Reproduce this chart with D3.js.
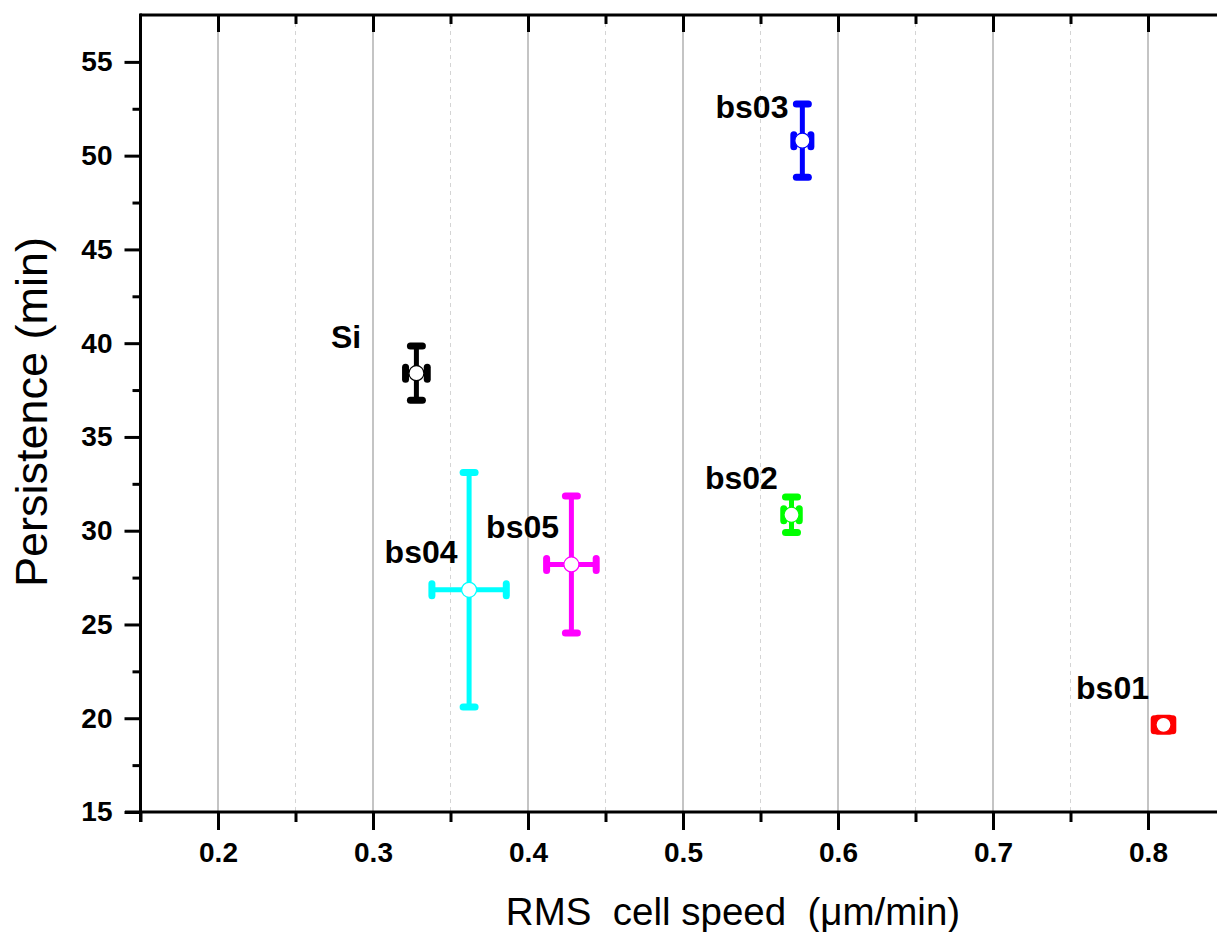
<!DOCTYPE html>
<html>
<head>
<meta charset="utf-8">
<script src="https://cdn.jsdelivr.net/npm/d3@7"></script>
<style>
  html, body { margin: 0; padding: 0; background: #fff; }
  svg { display: block; overflow: hidden; font-family: "Liberation Sans", Arial, sans-serif; }
</style>
</head>
<body>
<svg id="chart" width="1217" height="932"></svg>
<script>
// samples and their measured values
const names = ["Si", "bs01", "bs02", "bs03", "bs04", "bs05"];
const colors = ["#000000", "#ff0000", "#00ff00", "#0000ff", "#00ffff", "#ff00ff"];
const speed = [0.328, 0.810, 0.570, 0.577, 0.362, 0.428];
const speedErr = [0.007, 0.006, 0.005, 0.0055, 0.024, 0.016];
const persistence = [38.4, 19.65, 30.85, 50.8, 26.85, 28.2];
const persistenceErr = [1.45, 0.35, 0.95, 1.95, 6.25, 3.65];
// label anchor (data coordinates, text baseline centre)
const labelX = [0.2826, 0.7771, 0.5377, 0.5445, 0.3310, 0.3965];
const labelY = [39.75, 21.03, 32.23, 52.01, 28.28, 29.61];

const xMajor = [0.2, 0.3, 0.4, 0.5, 0.6, 0.7, 0.8];
const xMinor = [0.15, 0.25, 0.35, 0.45, 0.55, 0.65, 0.75, 0.85];
const yMajor = [15, 20, 25, 30, 35, 40, 45, 50, 55];
const yMinor = [17.5, 22.5, 27.5, 32.5, 37.5, 42.5, 47.5, 52.5, 57.5];

const svg = d3.select("#chart");

const x = d3.scaleLinear().domain([0.15, 0.85]).range([140.5, 1225.5]);
const y = d3.scaleLinear().domain([15, 57.5]).range([812, 15]);

// grid
svg.append("g").selectAll("line").data(xMajor).join("line")
    .attr("x1", d => x(d)).attr("x2", d => x(d))
    .attr("y1", y(57.5)).attr("y2", y(15))
    .attr("stroke", "#b0b0b0").attr("stroke-width", 1.5);
svg.append("g").selectAll("line").data(xMinor.slice(1, -1)).join("line")
    .attr("x1", d => x(d)).attr("x2", d => x(d))
    .attr("y1", y(57.5)).attr("y2", y(15))
    .attr("stroke", "#d4d4d4").attr("stroke-width", 1)
    .attr("stroke-dasharray", "4,4");

// axes
function styleAxis(g) {
    g.attr("font-family", null).attr("font-size", null);
    g.select(".domain").attr("stroke-width", 3).attr("stroke", "#000");
    g.selectAll(".tick line").attr("stroke-width", 3).attr("stroke", "#000");
    g.selectAll(".tick text").attr("font-size", 28).attr("font-weight", "bold").attr("fill", "#000");
}

const xAxis = svg.append("g")
    .attr("transform", `translate(0,${y(15)})`)
    .call(d3.axisBottom(x).tickValues(xMajor).tickSize(18).tickSizeOuter(0).tickPadding(12)
        .tickFormat(d3.format(".1f")))
    .call(styleAxis);
xAxis.select(".domain").attr("d", `M125,0H1217`);
svg.append("g")
    .attr("transform", `translate(0,${y(15)})`)
    .call(d3.axisBottom(x).tickValues(xMinor).tickSize(10).tickFormat(""))
    .call(g => g.select(".domain").remove())
    .call(g => g.selectAll(".tick line").attr("stroke-width", 3).attr("stroke", "#000"));

// top border with inward ticks
const topAxis = svg.append("g")
    .attr("transform", `translate(0,${y(57.5)})`)
    .call(d3.axisTop(x).tickValues(xMajor).tickSize(-17).tickSizeOuter(0).tickFormat(""));
topAxis.select(".domain").attr("d", "M140,0H1217").attr("stroke-width", 3);
topAxis.selectAll(".tick line").attr("stroke-width", 3);
svg.append("g")
    .attr("transform", `translate(0,${y(57.5)})`)
    .call(d3.axisTop(x).tickValues(xMinor.slice(1, -1)).tickSize(-9).tickFormat(""))
    .call(g => g.select(".domain").remove())
    .call(g => g.selectAll(".tick line").attr("stroke-width", 3));

const yAxis = svg.append("g")
    .attr("transform", `translate(${x(0.15)},0)`)
    .call(d3.axisLeft(y).tickValues(yMajor).tickSize(16).tickSizeOuter(0).tickPadding(12))
    .call(styleAxis);
yAxis.select(".domain").attr("d", `M0,${y(57.5) - 1.5}V${y(15) + 10}`);
svg.append("g")
    .attr("transform", `translate(${x(0.15)},0)`)
    .call(d3.axisLeft(y).tickValues(yMinor.slice(0, -1)).tickSize(8).tickFormat(""))
    .call(g => g.select(".domain").remove())
    .call(g => g.selectAll(".tick line").attr("stroke-width", 3).attr("stroke", "#000"));

// axis titles
svg.append("text")
    .attr("x", 733).attr("y", 925)
    .attr("text-anchor", "middle")
    .attr("font-size", 38.5)
    .style("white-space", "pre")
    .text("RMS  cell speed  (\u03bcm/min)");
svg.append("text")
    .attr("transform", `translate(47,${412}) rotate(-90)`)
    .attr("text-anchor", "middle")
    .attr("font-size", 45)
    .text("Persistence (min)");

// error bars and markers
const pts = names.map((n, i) => ({
    name: n, color: colors[i], x: speed[i], xe: speedErr[i],
    y: persistence[i], ye: persistenceErr[i], lx: labelX[i], ly: labelY[i]
}));

const cap = 9;
const g = svg.append("g").attr("stroke-linecap", "round");
pts.forEach(p => {
    const grp = g.append("g").attr("stroke", p.color).attr("stroke-width", 5);
    grp.append("line").attr("x1", x(p.x)).attr("x2", x(p.x)).attr("y1", y(p.y - p.ye)).attr("y2", y(p.y + p.ye));
    grp.append("line").attr("x1", x(p.x - p.xe)).attr("x2", x(p.x + p.xe)).attr("y1", y(p.y)).attr("y2", y(p.y));
    grp.append("line").attr("x1", x(p.x) - cap + 3).attr("x2", x(p.x) + cap - 3).attr("y1", y(p.y + p.ye)).attr("y2", y(p.y + p.ye)).attr("stroke-width", 7);
    grp.append("line").attr("x1", x(p.x) - cap + 3).attr("x2", x(p.x) + cap - 3).attr("y1", y(p.y - p.ye)).attr("y2", y(p.y - p.ye)).attr("stroke-width", 7);
    grp.append("line").attr("x1", x(p.x - p.xe)).attr("x2", x(p.x - p.xe)).attr("y1", y(p.y) - cap + 3).attr("y2", y(p.y) + cap - 3).attr("stroke-width", 7);
    grp.append("line").attr("x1", x(p.x + p.xe)).attr("x2", x(p.x + p.xe)).attr("y1", y(p.y) - cap + 3).attr("y2", y(p.y) + cap - 3).attr("stroke-width", 7);
    svg.append("circle")
        .attr("cx", x(p.x)).attr("cy", y(p.y)).attr("r", 7.5)
        .attr("fill", "#fff").attr("stroke", p.color).attr("stroke-width", 1.2);
});

// labels
svg.append("g").selectAll("text").data(pts).join("text")
    .attr("x", d => x(d.lx)).attr("y", d => y(d.ly))
    .attr("text-anchor", "middle")
    .attr("font-size", 32).attr("font-weight", "bold")
    .text(d => d.name);
</script>
</body>
</html>
